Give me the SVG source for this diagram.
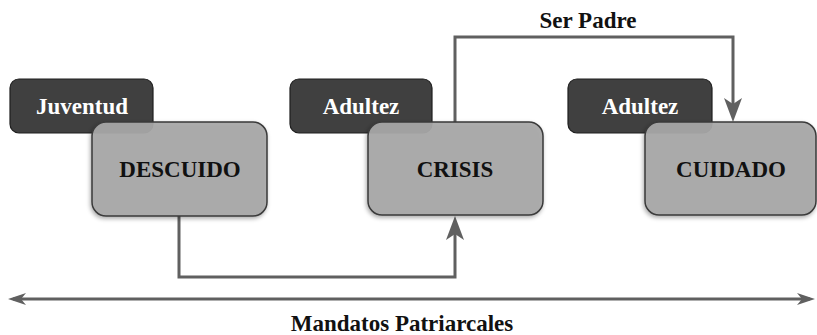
<svg xmlns="http://www.w3.org/2000/svg" width="817" height="335" viewBox="0 0 817 335">
<style>
.tag{fill:#404040;stroke:#1e1e1e;stroke-width:1.2}
.main{fill:#a8a8a8;fill-opacity:0.93;stroke:#3a3a3a;stroke-width:1.5;filter:url(#sh)}
.t{font-family:'Liberation Serif','Times New Roman',serif;font-weight:bold;font-size:23px;text-anchor:middle}
.tw{fill:#ffffff}
.tb{fill:#111111}
.con{fill:none;stroke:#606060;stroke-width:3}
</style>
<defs>
<filter id="sh" x="-10%" y="-10%" width="120%" height="130%">
<feDropShadow dx="-1" dy="2" stdDeviation="2" flood-color="#000" flood-opacity="0.35"/>
</filter>
<marker id="ah" viewBox="0 0 24 18" refX="18" refY="9" markerWidth="24" markerHeight="18" markerUnits="userSpaceOnUse" orient="auto">
<path d="M0,0 L24,9 L0,18 L6,9 z" fill="#606060"/>
</marker>
<marker id="ah2" viewBox="0 0 18 12" refX="13" refY="6" markerWidth="18" markerHeight="12" markerUnits="userSpaceOnUse" orient="auto-start-reverse">
<path d="M0,0 L18,6 L0,12 L5,6 z" fill="#606060"/>
</marker>
</defs>
<g id="connectors">
<path class="con" d="M179,216 V277 H455 V222" marker-end="url(#ah)"/>
<path class="con" d="M455,122 V37 H733 V116" marker-end="url(#ah)"/>
<path class="con" d="M13,299 H810" marker-start="url(#ah2)" marker-end="url(#ah2)"/>
</g>
<g id="juventud"><rect class="tag" x="10" y="79" width="143" height="54" rx="9"/><text class="t tw" x="82" y="114">Juventud</text></g>
<g id="descuido"><rect class="main" x="92" y="122" width="175" height="94" rx="14"/><text class="t tb" x="180" y="177">DESCUIDO</text></g>
<g id="adultez1"><rect class="tag" x="290" y="79" width="142" height="54" rx="9"/><text class="t tw" x="361" y="114">Adultez</text></g>
<g id="crisis"><rect class="main" x="368" y="122" width="175" height="93" rx="14"/><text class="t tb" x="455" y="177">CRISIS</text></g>
<g id="adultez2"><rect class="tag" x="568" y="79" width="144" height="54" rx="9"/><text class="t tw" x="640" y="114">Adultez</text></g>
<g id="cuidado"><rect class="main" x="645" y="122" width="171" height="93" rx="14"/><text class="t tb" x="731" y="177">CUIDADO</text></g>
<g id="labels">
<text class="t tb" x="588" y="28">Ser Padre</text>
<text class="t tb" x="402" y="331">Mandatos Patriarcales</text>
</g>
</svg>
